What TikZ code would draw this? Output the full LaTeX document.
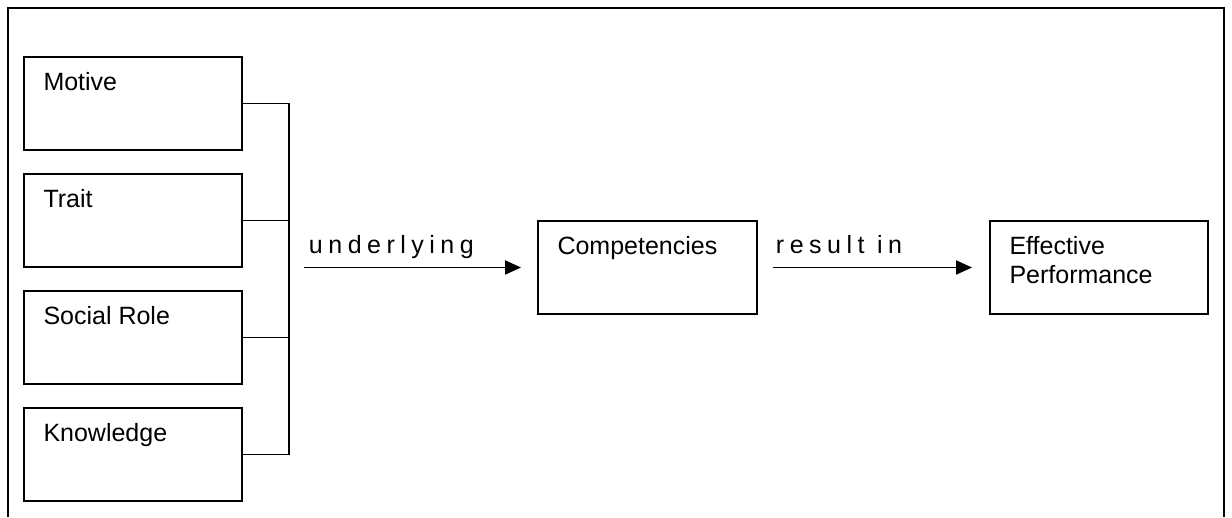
\documentclass[tikz,border=0pt]{standalone}
\usepackage{fontspec}
\setmainfont{Liberation Sans}
\usetikzlibrary{arrows.meta}
\begin{document}
\begin{tikzpicture}[x=1pt,y=-1pt,
  every path/.style={line width=1.9pt},
  box/.style={draw, line width=1.9pt, rectangle, inner sep=0pt, minimum width=218pt, minimum height=93pt},
  boxtext/.style={anchor=base west, inner sep=0pt, font=\fontsize{25}{29}\selectfont, xshift=19.5pt, yshift=-34pt},
  linklabel/.style={anchor=base west, inner sep=0pt, font=\fontsize{25}{29}\selectfont\addfontfeature{LetterSpace=22}},
  link/.style={line width=1.9pt, -{Triangle[length=16pt,width=14pt]}}
]
\useasboundingbox (0,0) rectangle (1232,517);
% outer frame, open at the bottom edge
\draw[line width=2pt] (8,517) -- (8,8) -- (1224,8) -- (1224,517);

% four source boxes
\node[box] (motive)    at (133,103.5) {};
\node[box] (trait)     at (133,220.5) {};
\node[box] (social)    at (133,337.5) {};
\node[box] (knowledge) at (133,454.5) {};
\node[boxtext] at (motive.north west)    {Motive};
\node[boxtext] at (trait.north west)     {Trait};
\node[boxtext] at (social.north west)    {Social Role};
\node[boxtext] at (knowledge.north west) {Knowledge};

% bracket joining the source boxes
\coordinate (jt) at (289,103.5);
\coordinate (jb) at (289,454.5);
\draw (motive.east) -- (jt) -- (jb) -- (knowledge.east);
\draw (trait.east) -- (trait.east -| jt);
\draw (social.east) -- (social.east -| jt);

% middle and final boxes
\node[box, minimum width=219pt] (comp) at (647.5,267.5) {};
\node[boxtext] at (comp.north west) {Competencies};
\node[box] (perf) at (1099,267.5) {};
\node[boxtext] at (perf.north west) {\vtop{\baselineskip=29pt\hbox{Effective}\hbox{Performance}}};

% arrows with spaced labels
\coordinate (u0) at (304,267.5);
\draw[link, shorten >=16pt] (u0) -- (u0 -| comp.west);
\node[linklabel] at (308,253) {underlying};
\draw[link, shorten <=15pt, shorten >=17pt] (comp.east) -- (perf.west);
\node[linklabel] at (775,253) {result in};
\end{tikzpicture}
\end{document}
